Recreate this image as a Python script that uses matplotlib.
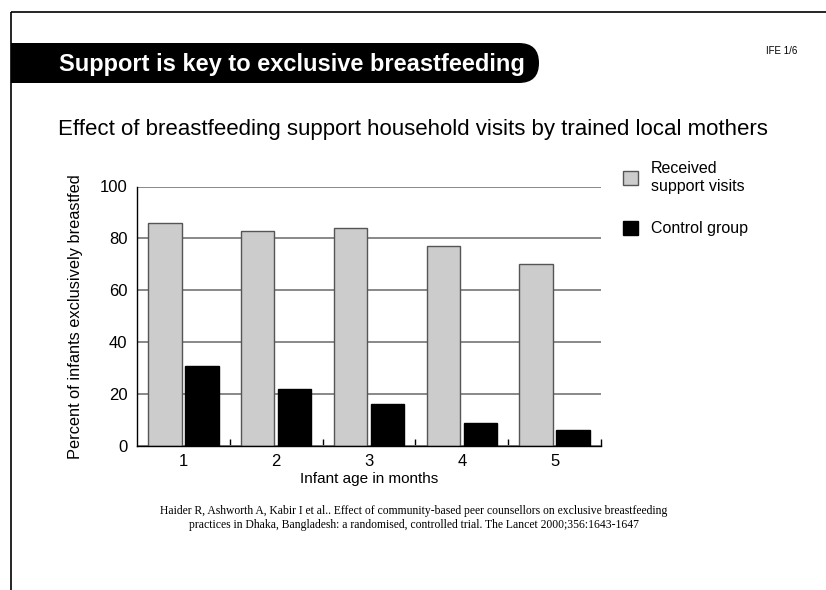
import numpy as np
import matplotlib
matplotlib.use("Agg")
from matplotlib import pyplot as plt
from matplotlib.patches import Rectangle, FancyBboxPatch
from matplotlib.ticker import FixedLocator

plt.rcParams['font.family'] = ['Liberation Sans', 'DejaVu Sans']

months = [1, 2, 3, 4, 5]
support_visits = [86, 83, 84, 77, 70]
control_group = [31, 22, 16, 9, 6]
series_labels = ["Received\nsupport visits", "Control group"]

title = "Support is key to exclusive breastfeeding"
subtitle = "Effect of breastfeeding support household visits by trained local mothers"
slide_tag = "IFE 1/6"
citation = ("Haider R, Ashworth A, Kabir I et al.. Effect of community-based peer counsellors on exclusive breastfeeding\n"
            "practices in Dhaka, Bangladesh: a randomised, controlled trial. The Lancet 2000;356:1643-1647")

W, H = 826, 590
fig = plt.figure(figsize=(W / 100, H / 100), dpi=100)

# slide decoration layer in pixel coords (y down)
bg = fig.add_axes([0, 0, 1, 1], zorder=0)
bg.set_xlim(0, W)
bg.set_ylim(H, 0)
bg.axis("off")
bg.plot([11, W], [12, 12], color="black", lw=1.2, solid_capstyle="butt")
bg.plot([11, 11], [12, H], color="black", lw=1.2, solid_capstyle="butt")
bg.add_patch(Rectangle((11, 43), 500, 40, facecolor="black", edgecolor="none"))
bg.add_patch(FancyBboxPatch((470, 43), 69, 40, boxstyle="round,pad=0,rounding_size=20",
                            facecolor="black", edgecolor="none"))
bg.text(59, 64, title, color="white", fontsize=17, fontweight="bold", va="center", ha="left")
bg.text(782, 51, slide_tag, fontsize=7, va="center", ha="center")
bg.text(58, 130, subtitle, fontsize=16, va="center", ha="left")
bg.text(414, 518, citation, fontsize=8.4, family=["Liberation Serif"], va="center", ha="center",
        linespacing=1.2)

# chart
ax = fig.add_axes([137 / W, 1 - 446 / H, 464 / W, 259.5 / H], zorder=1)
x = np.array(months)
w = 0.36
b1 = ax.bar(x - 0.2, support_visits, w, color="#cccccc", edgecolor="#555555", lw=1, zorder=3,
            label=series_labels[0])
b2 = ax.bar(x + 0.2, control_group, w, color="black", edgecolor="black", lw=1, zorder=3,
            label=series_labels[1])

ax.set_xlim(0.5, 5.5)
ax.set_ylim(0, 100)
ax.set_yticks([0, 20, 40, 60, 80, 100])
ax.set_xticks(months)
ax.xaxis.set_minor_locator(FixedLocator(np.arange(1.5, 6, 1)))
ax.tick_params(axis="x", which="major", length=0, labelsize=12, pad=6)
ax.tick_params(axis="x", which="minor", length=5, direction="in", width=1)
ax.tick_params(axis="y", length=0, labelsize=12, pad=7)
ax.yaxis.grid(True, color="#7f7f7f", lw=1.3, zorder=0)
ax.set_axisbelow(True)
for s in ["top", "right"]:
    ax.spines[s].set_visible(False)
for s in ["left", "bottom"]:
    ax.spines[s].set_linewidth(1.0)
    ax.spines[s].set_zorder(4)

ax.set_xlabel("Infant age in months", fontsize=11, labelpad=2)
ax.set_ylabel("Percent of infants exclusively breastfed", fontsize=11.8)
ax.yaxis.set_label_coords(-0.116, 0.5)

leg = fig.legend(handles=[b1, b2], loc="upper left", bbox_to_anchor=(609 / W, 1 - 147 / H),
                 frameon=False, fontsize=11.5, handlelength=0.92, handleheight=0.92,
                 handletextpad=0.8, labelspacing=1.72)
for t in leg.get_texts():
    t.set_multialignment("left")

plt.savefig("out.png", dpi=100)
